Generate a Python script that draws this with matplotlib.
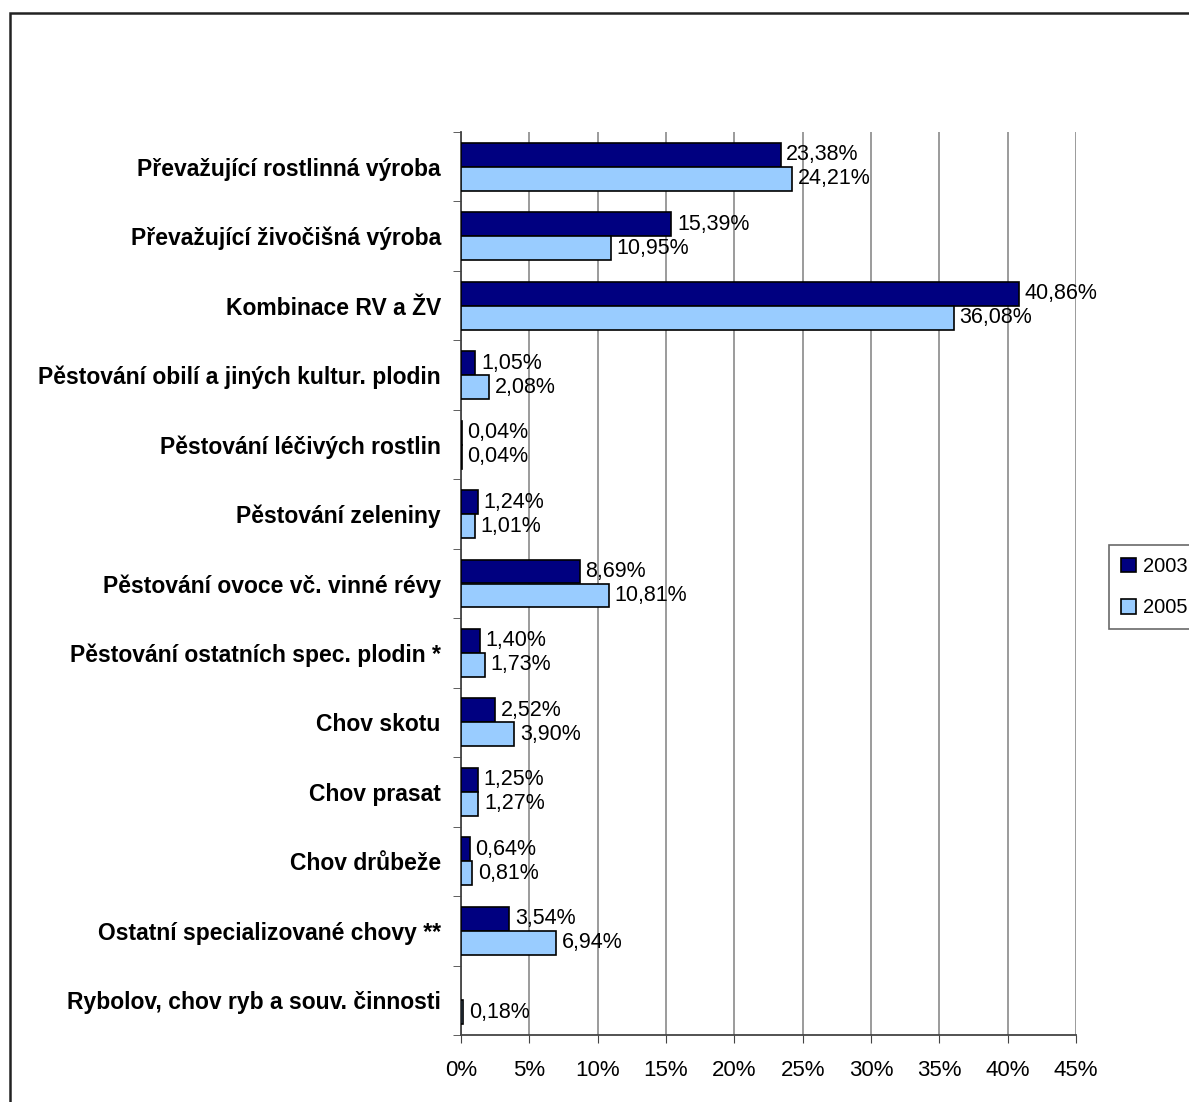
import matplotlib
matplotlib.use("Agg")
import matplotlib.pyplot as plt
import numpy as np
from matplotlib.patches import Rectangle

plt.rcParams['font.family'] = ['Liberation Sans', 'DejaVu Sans']

categories = [
    "Převažující rostlinná výroba",
    "Převažující živočišná výroba",
    "Kombinace RV a ŽV",
    "Pěstování obilí a jiných kultur. plodin",
    "Pěstování léčivých rostlin",
    "Pěstování zeleniny",
    "Pěstování ovoce vč. vinné révy",
    "Pěstování ostatních spec. plodin *",
    "Chov skotu",
    "Chov prasat",
    "Chov drůbeže",
    "Ostatní specializované chovy **",
    "Rybolov, chov ryb a souv. činnosti",
]
values_2003 = [23.38, 15.39, 40.86, 1.05, 0.04, 1.24, 8.69, 1.40, 2.52, 1.25, 0.64, 3.54, np.nan]
values_2005 = [24.21, 10.95, 36.08, 2.08, 0.04, 1.01, 10.81, 1.73, 3.90, 1.27, 0.81, 6.94, 0.18]
series_names = ["2003", "2005"]
xticks = [0, 5, 10, 15, 20, 25, 30, 35, 40, 45]

W, H = 1189, 1102
fig = plt.figure(figsize=(W/100, H/100), dpi=100)
# outer frame (open at right/bottom, extends past edges)
fig.patches.append(Rectangle((10/W, -0.05), 1.2, 1 - 13/H + 0.05, transform=fig.transFigure,
                             fill=False, edgecolor='#222222', linewidth=1.8))

ax = fig.add_axes([461/W, 1 - 1035/H, (1076-461)/W, (1035-132)/H])

n = len(categories)
y = np.arange(n)
h = 0.345
c1, c2 = '#000080', '#99CCFF'
b1 = ax.barh(y - h/2, values_2003, height=h, color=c1, edgecolor='black', linewidth=1.2, label=series_names[0], zorder=3)
b2 = ax.barh(y + h/2, values_2005, height=h, color=c2, edgecolor='black', linewidth=1.2, label=series_names[1], zorder=3)

def fmt(v):
    return f"{v:.2f}%".replace('.', ',')

for bars, vals in ((b1, values_2003), (b2, values_2005)):
    for rect, v in zip(bars, vals):
        if np.isnan(v):
            continue
        ax.annotate(fmt(v), xy=(v, rect.get_y() + rect.get_height()/2), xytext=(4, 0),
                    textcoords='offset points', ha='left', va='center', fontsize=15.5, zorder=4)

ax.set_xlim(0, 45)
ax.set_ylim(n - 0.5, -0.5)
ax.set_xticks(xticks)
ax.set_xticklabels([f"{t}%" for t in xticks], fontsize=16)
ax.set_yticks(y)
ax.set_yticklabels(categories, fontsize=16.5, fontweight='bold')
ax.set_yticks(np.arange(n + 1) - 0.5, minor=True)
ax.tick_params(axis='y', which='major', length=0, pad=14.5)
ax.tick_params(axis='y', which='minor', length=6, direction='out', color='#444444')
ax.tick_params(axis='x', which='major', length=6, direction='out', color='#444444', pad=12)
ax.grid(axis='x', color='#808080', linewidth=1.1, zorder=0)
ax.set_axisbelow(True)
for s in ('top', 'right'):
    ax.spines[s].set_visible(False)
for s in ('left', 'bottom'):
    ax.spines[s].set_color('#444444')
    ax.spines[s].set_linewidth(1.3)

leg = fig.legend(handles=[b1, b2], labels=series_names, loc='upper left',
                 bbox_to_anchor=(1109/W, 1 - 545/H), fontsize=14.5, frameon=True, fancybox=False,
                 edgecolor='#444444', handlelength=0.75, handleheight=0.75, handletextpad=0.35,
                 borderpad=0.6, labelspacing=1.1, borderaxespad=0)
leg.get_frame().set_linewidth(1.2)

fig.savefig("out.png", dpi=100, facecolor='white')
